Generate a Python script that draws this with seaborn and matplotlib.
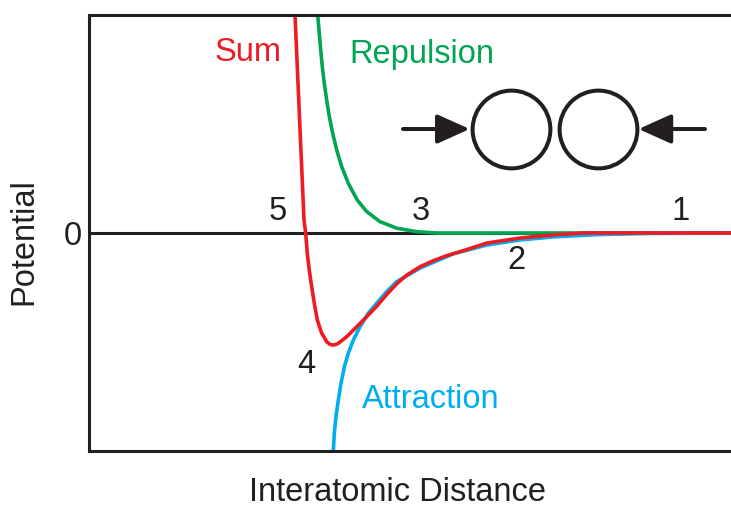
import numpy as np
import pandas as pd
import matplotlib
matplotlib.use("Agg")
import matplotlib.pyplot as plt
import seaborn as sns

# Curves (arbitrary distance units, potential in -1..1)
rep_x = [3.562, 3.587, 3.609, 3.634, 3.665, 3.702, 3.743, 3.796, 3.858, 3.936,
         4.039, 4.179, 4.326, 4.533, 4.793, 5.104, 5.416, 10.0]
rep_y = [1.000, 0.916, 0.839, 0.763, 0.686, 0.610, 0.534, 0.457, 0.381, 0.304,
         0.228, 0.151, 0.098, 0.052, 0.022, 0.006, 0.0, 0.0]

att_x = [3.805, 3.821, 3.847, 3.883, 3.925, 3.977, 4.039, 4.117, 4.221, 4.350,
         4.481, 4.637, 4.793, 5.156, 5.670, 6.199, 6.713, 7.227, 7.960, 8.738, 10.0]
att_y = [-1.00, -0.919, -0.843, -0.767, -0.690, -0.614, -0.552, -0.491, -0.430, -0.368,
         -0.322, -0.269, -0.223, -0.161, -0.096, -0.055, -0.032, -0.018, -0.007, -0.002, 0.0]

sum_x = [3.209, 3.349, 3.375, 3.400, 3.431, 3.469, 3.509, 3.556, 3.625, 3.703,
         3.750, 3.796, 3.840, 3.883, 4.014, 4.170, 4.326, 4.481, 4.637, 4.793,
         4.949, 5.156, 5.363, 5.572, 5.830, 6.199, 6.713, 7.227, 7.695, 10.0]
sum_y = [1.000, 0.060, -0.001, -0.093, -0.170, -0.247, -0.322, -0.399, -0.460, -0.499,
         -0.510, -0.514, -0.512, -0.506, -0.476, -0.430, -0.384, -0.336, -0.282, -0.233,
         -0.193, -0.155, -0.127, -0.104, -0.081, -0.046, -0.023, -0.009, 0.0, 0.0]

# numbered points along the curves
point_labels = ["5", "3", "1", "2", "4"]
point_x = [2.944, 5.171, 9.22, 6.66, 3.38]
point_y = [0.100, 0.100, 0.100, -0.125, -0.605]

RED = "#ED1C24"
GREEN = "#00A651"
BLUE = "#00AEEF"
INK = "#231F20"

sns.set_style("white")
plt.rcParams["font.family"] = ["Liberation Sans", "DejaVu Sans"]
FS = 23.5

fig = plt.figure(figsize=(7.31, 5.07), dpi=100)
ax = fig.add_axes([89 / 731, 56 / 507, 642 / 731, 436 / 507])

ax.axhline(0, color=INK, lw=2.2, zorder=1)

curves = pd.DataFrame({
    "x": rep_x + att_x + sum_x,
    "y": rep_y + att_y + sum_y,
    "curve": ["Repulsion"] * len(rep_x) + ["Attraction"] * len(att_x) + ["Sum"] * len(sum_x),
})
sns.lineplot(data=curves, x="x", y="y", hue="curve",
             palette={"Repulsion": GREEN, "Attraction": BLUE, "Sum": RED},
             hue_order=["Repulsion", "Attraction", "Sum"],
             sort=False, estimator=None, lw=2.6, legend=False, ax=ax)
for ln in ax.get_lines():
    ln.set_solid_joinstyle("round")

ax.set_xlim(0, 10)
ax.set_ylim(-1, 1)

# curve names
ax.text(2.477, 0.83, "Sum", color=RED, fontsize=FS, ha="center", va="center")
ax.text(5.19, 0.817, "Repulsion", color=GREEN, fontsize=FS, ha="center", va="center")
ax.text(5.33, -0.766, "Attraction", color=BLUE, fontsize=FS, ha="center", va="center")

for lab, px, py in zip(point_labels, point_x, point_y):
    ax.text(px, py, lab, color=INK, fontsize=FS, ha="center", va="center")

# two atoms being pushed together
ax.plot([6.573, 7.928], [0.477, 0.477], ls="none", marker="o", ms=56,
        mfc="white", mec=INK, mew=2.9)
arrow = dict(arrowstyle="-|>,head_length=1.0,head_width=0.45", color=INK, lw=2.9,
             shrinkA=0, shrinkB=0, mutation_scale=20)
ax.annotate("", xy=(5.93, 0.477), xytext=(4.891, 0.477), arrowprops=arrow)
ax.annotate("", xy=(8.56, 0.477), xytext=(9.595, 0.477), arrowprops=arrow)

# axes styling
for side in ["left", "top", "bottom"]:
    ax.spines[side].set_color(INK)
    ax.spines[side].set_linewidth(2.2)
ax.spines["right"].set_visible(False)
ax.set_xticks([])
ax.set_yticks([0])
ax.set_yticklabels(["0"], fontsize=FS, color=INK)
ax.tick_params(axis="y", length=0, pad=5)

ax.set_xlabel("Interatomic Distance", fontsize=FS, color=INK)
ax.set_ylabel("Potential", fontsize=FS, color=INK)
ax.xaxis.set_label_coords(0.48, -0.059)
ax.yaxis.set_label_coords(-0.078, 0.48)

fig.savefig("out.png", dpi=100)
